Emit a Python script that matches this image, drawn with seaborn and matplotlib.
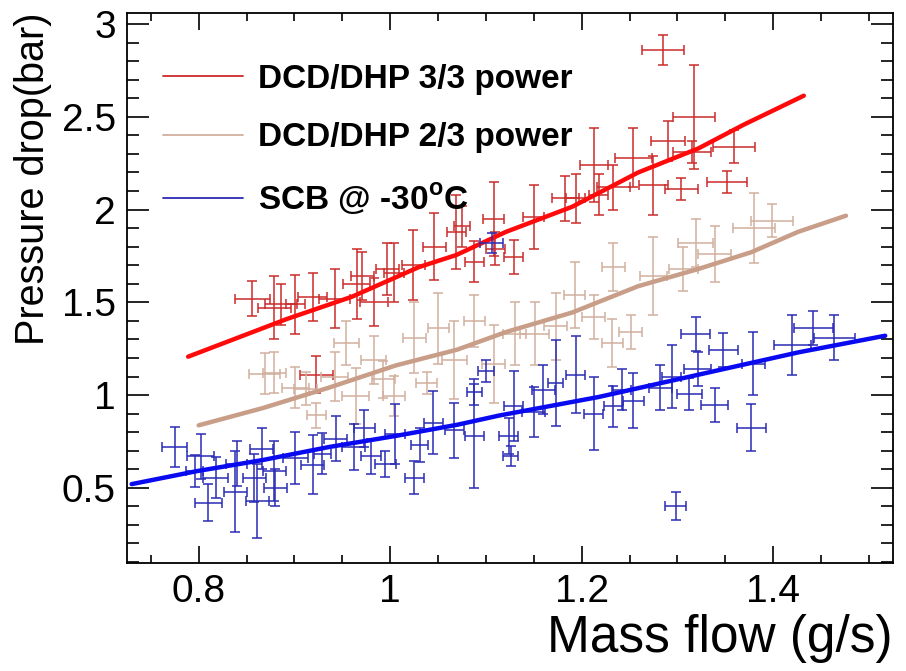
import matplotlib
matplotlib.use('Agg')
import matplotlib.pyplot as plt
from matplotlib.lines import Line2D
from matplotlib.ticker import MultipleLocator, FuncFormatter
import seaborn as sns

# DCD/DHP 3/3 power : measured points (mass flow, pressure drop, errors)
red_x = [0.856, 0.879, 0.886, 0.901, 0.919, 0.942, 0.965, 0.971, 0.983, 0.997,
         1.004, 1.024, 1.046, 1.069, 1.075, 1.088, 1.108, 1.110, 1.129, 1.150,
         1.183, 1.194, 1.213, 1.218, 1.233, 1.254, 1.275, 1.285, 1.290, 1.304,
         1.317, 1.315, 1.352, 1.359, 0.923]
red_y = [1.52, 1.47, 1.49, 1.49, 1.53, 1.52, 1.60, 1.64, 1.50, 1.68,
         1.66, 1.70, 1.80, 1.88, 1.91, 1.72, 1.95, 1.79, 1.745, 1.96,
         2.06, 2.06, 2.24, 2.08, 2.12, 2.28, 2.13, 2.86, 2.37, 2.11,
         2.50, 2.31, 2.15, 2.34, 1.11]
red_xerr = [0.018, 0.017, 0.017, 0.010, 0.015, 0.016, 0.014, 0.012, 0.015, 0.012,
            0.010, 0.012, 0.012, 0.010, 0.008, 0.010, 0.011, 0.010, 0.010, 0.011,
            0.014, 0.010, 0.015, 0.010, 0.017, 0.019, 0.015, 0.022, 0.018, 0.017,
            0.022, 0.020, 0.021, 0.022, 0.017]
red_yerr = [0.095, 0.17, 0.11, 0.16, 0.13, 0.16, 0.19, 0.13, 0.13, 0.14,
            0.16, 0.19, 0.18, 0.20, 0.11, 0.11, 0.20, 0.09, 0.09, 0.17,
            0.12, 0.13, 0.20, 0.11, 0.12, 0.16, 0.16, 0.08, 0.11, 0.06,
            0.28, 0.06, 0.06, 0.09, 0.10]
red_fit_x = [0.789, 0.892, 0.96, 1.03, 1.069, 1.121, 1.19, 1.259, 1.322, 1.369, 1.432]
red_fit_y = [1.207, 1.41, 1.53, 1.69, 1.755, 1.88, 2.015, 2.20, 2.33, 2.457, 2.614]

# DCD/DHP 2/3 power
tan_x = [0.869, 0.879, 0.901, 0.912, 0.923, 0.942, 0.954, 0.964, 0.983, 0.993,
         1.004, 1.025, 1.038, 1.050, 1.067, 1.088, 1.108, 1.130, 1.151, 1.173,
         1.193, 1.2125, 1.232, 1.233, 1.251, 1.275, 1.306, 1.319, 1.339, 1.380,
         1.399]
tan_y = [1.115, 1.12, 1.04, 1.035, 0.89, 1.10, 1.28, 0.995, 1.19, 1.085,
         0.995, 1.31, 1.065, 1.36, 1.19, 1.40, 1.17, 1.33, 1.33, 1.37,
         1.54, 1.42, 1.28, 1.69, 1.34, 1.64, 1.68, 1.82, 1.76, 1.90,
         1.94]
tan_xerr = [0.016, 0.012, 0.014, 0.012, 0.010, 0.014, 0.013, 0.014, 0.013, 0.012,
            0.012, 0.012, 0.011, 0.011, 0.013, 0.011, 0.012, 0.012, 0.015, 0.012,
            0.011, 0.012, 0.011, 0.012, 0.012, 0.014, 0.015, 0.018, 0.017, 0.022,
            0.022]
tan_yerr = [0.11, 0.11, 0.11, 0.09, 0.07, 0.13, 0.12, 0.15, 0.13, 0.10,
            0.11, 0.19, 0.06, 0.19, 0.21, 0.14, 0.21, 0.17, 0.17, 0.18,
            0.18, 0.12, 0.13, 0.13, 0.09, 0.21, 0.12, 0.13, 0.15, 0.19,
            0.09]
tan_fit_x = [0.80, 0.867, 0.936, 1.006, 1.07, 1.121, 1.19, 1.259, 1.322, 1.377, 1.426, 1.476]
tan_fit_y = [0.837, 0.93, 1.04, 1.16, 1.245, 1.34, 1.445, 1.587, 1.68, 1.77, 1.88, 1.967]

# SCB @ -30 C
blue_x = [0.775, 0.796, 0.802, 0.810, 0.818, 0.838, 0.840, 0.858, 0.861, 0.866,
          0.879, 0.880, 0.901, 0.919, 0.929, 0.943, 0.962, 0.973, 0.980, 0.995,
          1.005, 1.025, 1.031, 1.045, 1.067, 1.088, 1.088, 1.100, 1.106, 1.124,
          1.126, 1.129, 1.150, 1.160, 1.173, 1.194, 1.2125, 1.233, 1.242, 1.254,
          1.282, 1.294, 1.298, 1.3125, 1.319, 1.321, 1.339, 1.348, 1.377, 1.379,
          1.420, 1.442, 1.464]
blue_y = [0.72, 0.59, 0.67, 0.42, 0.555, 0.48, 0.63, 0.555, 0.43, 0.71,
          0.59, 0.50, 0.66, 0.625, 0.685, 0.765, 0.72, 0.82, 0.67, 0.63,
          0.79, 0.555, 0.73, 0.85, 0.81, 0.78, 1.015, 1.13, 1.82, 0.78,
          0.67, 0.94, 0.91, 1.03, 1.065, 1.11, 0.90, 0.94, 1.03, 0.97,
          1.04, 1.10, 0.40, 1.005, 1.33, 1.14, 0.945, 1.245, 0.825, 1.17,
          1.27, 1.36, 1.31]
blue_xerr = [0.013, 0.009, 0.014, 0.014, 0.013, 0.012, 0.011, 0.012, 0.012, 0.012,
             0.012, 0.012, 0.013, 0.012, 0.009, 0.012, 0.012, 0.011, 0.010, 0.011,
             0.010, 0.010, 0.009, 0.010, 0.010, 0.010, 0.008, 0.008, 0.012, 0.010,
             0.008, 0.010, 0.012, 0.012, 0.008, 0.010, 0.010, 0.010, 0.010, 0.011,
             0.012, 0.010, 0.011, 0.013, 0.015, 0.014, 0.014, 0.015, 0.015, 0.012,
             0.019, 0.020, 0.021]
blue_yerr = [0.11, 0.087, 0.12, 0.10, 0.11, 0.22, 0.12, 0.13, 0.20, 0.11,
             0.16, 0.10, 0.14, 0.16, 0.11, 0.12, 0.125, 0.10, 0.095, 0.07,
             0.16, 0.087, 0.09, 0.17, 0.15, 0.28, 0.07, 0.06, 0.054, 0.095,
             0.054, 0.19, 0.136, 0.13, 0.23, 0.206, 0.196, 0.11, 0.11, 0.15,
             0.12, 0.17, 0.075, 0.087, 0.092, 0.092, 0.092, 0.092, 0.125, 0.17,
             0.16, 0.092, 0.12]
blue_fit_x = [0.73, 0.798, 0.867, 0.936, 1.006, 1.07, 1.114, 1.218, 1.322, 1.426, 1.517]
blue_fit_y = [0.52, 0.59, 0.65, 0.72, 0.78, 0.84, 0.89, 0.99, 1.11, 1.23, 1.32]

labels = ['DCD/DHP 3/3 power', 'DCD/DHP 2/3 power', r'SCB @ -30$^{\mathbf{o}}$C']

sns.set_theme(style='ticks')
plt.rcParams['font.family'] = ['Liberation Sans', 'DejaVu Sans']
plt.rcParams['text.color'] = 'black'
plt.rcParams['mathtext.fontset'] = 'custom'
plt.rcParams['mathtext.rm'] = 'Liberation Sans'
plt.rcParams['mathtext.bf'] = 'Liberation Sans:bold'

fig = plt.figure(figsize=(9.06, 6.71), dpi=100)
ax = fig.add_axes([0.140, 0.161, 0.8455, 0.8197])
ax.set_facecolor('white')

series = [
    (red_x, red_y, red_xerr, red_yerr, red_fit_x, red_fit_y, '#cc2b2b', '#ff0a0a'),
    (tan_x, tan_y, tan_xerr, tan_yerr, tan_fit_x, tan_fit_y, '#d1b09e', '#c89e88'),
    (blue_x, blue_y, blue_xerr, blue_yerr, blue_fit_x, blue_fit_y, '#2b2bb5', '#0a0af0'),
]
for i, (px, py, pxe, pye, fx, fy, ecol, lcol) in enumerate(series):
    ax.errorbar(px, py, xerr=pxe, yerr=pye, fmt='none', ecolor=ecol,
                elinewidth=1.1, capsize=3.5, capthick=1.1, zorder=2 + 2 * i)
    sns.lineplot(x=fx, y=fy, color=lcol, lw=3.2, ax=ax, sort=False,
                 zorder=3 + 2 * i)

handles = [Line2D([], [], color=s[6], lw=1.3) for s in series]
ax.legend(handles, labels, loc='upper left', bbox_to_anchor=(0.047, 0.908),
          frameon=False, prop={'weight': 'bold', 'size': 24},
          handlelength=2.4, handletextpad=0.45, labelspacing=0.83,
          borderpad=0, borderaxespad=0, labelcolor='black')

ax.set_xlim(0.725, 1.525)
ax.set_ylim(0.095, 3.06)
ax.xaxis.set_major_locator(MultipleLocator(0.2))
ax.xaxis.set_minor_locator(MultipleLocator(0.05))
ax.yaxis.set_major_locator(MultipleLocator(0.5))
ax.yaxis.set_minor_locator(MultipleLocator(0.1))
fmt = FuncFormatter(lambda v, p: f'{v:g}')
ax.xaxis.set_major_formatter(fmt)
ax.yaxis.set_major_formatter(fmt)

ax.tick_params(which='both', direction='in', top=True, right=True,
               width=1.2, color='black', labelcolor='black')
ax.tick_params(axis='x', which='major', length=12, pad=8, labelsize=28)
ax.tick_params(axis='x', which='minor', length=6)
ax.tick_params(axis='y', which='major', length=16, pad=8, labelsize=28)
ax.tick_params(axis='y', which='minor', length=8.5)
for sp in ax.spines.values():
    sp.set_visible(True)
    sp.set_color('black')
    sp.set_linewidth(1.3)

ax.set_xlabel('Mass flow (g/s)', fontsize=37, loc='right', color='black')
ax.xaxis.set_label_coords(1.0, -0.092)
ax.set_ylabel('Pressure drop(bar)', fontsize=28.5, loc='top', color='black')
ax.yaxis.set_label_coords(-0.098, 1.0)

fig.savefig('out.png', dpi=100, facecolor='white')
